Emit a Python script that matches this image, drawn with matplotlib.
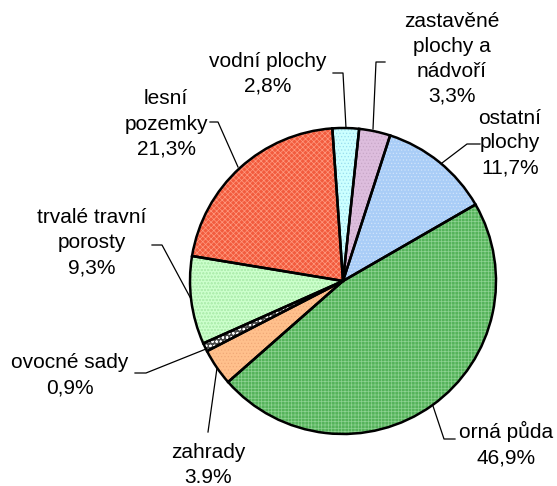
import matplotlib.pyplot as plt

plt.rcParams['font.family'] = ['Liberation Sans', 'DejaVu Sans']
plt.rcParams['hatch.linewidth'] = 0.5

# slices clockwise from the top
labels = ['vodní plochy', 'zastavěné plochy a nádvoří', 'ostatní plochy', 'orná půda',
          'zahrady', 'ovocné sady', 'trvalé travní porosty', 'lesní pozemky']
shares = [2.8, 3.3, 11.7, 46.9, 3.9, 0.9, 9.3, 21.3]
value_texts = ['2,8%', '3,3%', '11,7%', '46,9%', '3.9%', '0,9%', '9,3%', '21,3%']
label_texts = ['vodní plochy', 'zastavěné\nplochy a\nnádvoří', 'ostatní\nplochy', 'orná půda',
               'zahrady', 'ovocné sady', 'trvalé travní\nporosty', 'lesní\npozemky']

colors = ['#CCFFFF', '#DDBDDD', '#A9CDF7', '#55B35A', '#FFC08C', '#4A4A4A', '#CCFFCC', '#F25C3E']
hatches = ['.....', '.....', '.....', '+++++', '.....', 'oooo', 'ooooo', 'xxxxxx']
hatch_cols = ['#99DDEE', '#C8A8C8', '#D0E4FA', '#8ED292', '#F0A878', '#FFFFFF', '#B0EEB0', '#FF9A80']

W, H = 557, 486
fig = plt.figure(figsize=(W / 100, H / 100), dpi=100)
ax = fig.add_axes([0, 0, 1, 1])

cx, cy, r = 343, H - 281, 153
pie_kw = dict(startangle=94, counterclock=False, center=(cx, cy), radius=r, frame=True)

# fills
fills, _ = ax.pie(shares, colors=colors, wedgeprops=dict(linewidth=0), **pie_kw)
# pattern textures
tex, _ = ax.pie(shares, colors=colors, wedgeprops=dict(linewidth=0), **pie_kw)
for w, h, hc in zip(tex, hatches, hatch_cols):
    w.set_facecolor((0, 0, 0, 0))
    w.set_hatch(h)
    w.set_edgecolor(hc)
    w.set_zorder(2)
# outlines
outl, _ = ax.pie(shares, colors=colors, wedgeprops=dict(edgecolor='black', linewidth=1.8), **pie_kw)
for w in outl:
    w.set_facecolor((0, 0, 0, 0))
    w.set_zorder(3)

ax.set_xlim(0, W)
ax.set_ylim(0, H)
ax.set_aspect('equal')
ax.axis('off')

# label positions (pixel coords from top-left) and leader lines
label_pos = [(268, 74), (452, 59), (510, 143), (506, 444),
             (208, 465), (70, 375), (92, 243), (166, 124)]
leaders = [[(333, 73), (343, 73), (346, 128)],
           [(385, 62), (376, 62), (373, 129)],
           [(480, 144), (467, 144), (442, 163)],
           [(455, 439), (444, 439), (433, 406)],
           [(208, 432), (217, 368)],
           [(135, 373), (146, 373), (206, 349)],
           [(152, 245), (162, 245), (191, 299)],
           [(210, 122), (218, 122), (238, 167)]]

for (px, py), lt, vt in zip(label_pos, label_texts, value_texts):
    ax.text(px, H - py, lt + '\n' + vt, ha='center', va='center',
            fontsize=15, linespacing=1.4, zorder=5)
for pts in leaders:
    xs = [p[0] for p in pts]
    ys = [H - p[1] for p in pts]
    ax.plot(xs, ys, color='black', linewidth=0.9, zorder=4)

fig.savefig('out.png', dpi=100)
